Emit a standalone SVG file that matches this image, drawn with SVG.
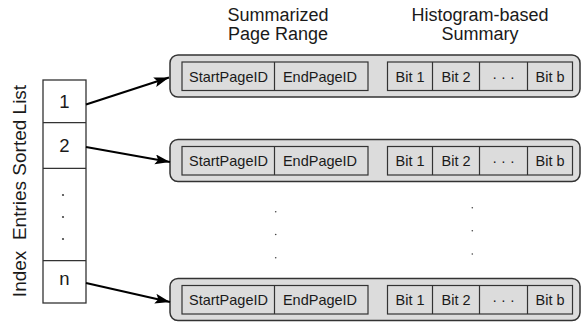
<svg xmlns="http://www.w3.org/2000/svg" width="581" height="330" viewBox="0 0 581 330">
<style>
text{font-family:"Liberation Sans",Arial,sans-serif;fill:#1a1a1a}
.hdr{font-size:18px;text-anchor:middle}
.lbl{font-size:19px;text-anchor:middle}
.lst{font-size:18.5px;text-anchor:middle}
.in{font-size:14.5px;text-anchor:middle}
.outer{fill:#dcdcdc;stroke:#333;stroke-width:1.5}
.inner{fill:#dcdcdc;stroke:#333;stroke-width:1.2}
.div{stroke:#333;stroke-width:1.2}
.cell{fill:#fff;stroke:#333;stroke-width:1.3}
.conn{stroke:#000;stroke-width:2.2;fill:none;marker-end:url(#ah)}
.dot{fill:#444}
</style>
<defs>
<marker id="ah" markerUnits="userSpaceOnUse" markerWidth="17" markerHeight="12" refX="15" refY="5" orient="auto">
<path d="M0,0 L15,5 L0,10 L3,5 Z" fill="#000"/>
</marker>
<g id="rowtpl">
<rect class="outer" x="170" y="55" width="410" height="42" rx="8"/>
<rect class="inner" x="182" y="62" width="186" height="28.5"/>
<line class="div" x1="274.5" y1="62" x2="274.5" y2="90.5"/>
<rect class="inner" x="387.5" y="62" width="185" height="28.5"/>
<line class="div" x1="432.5" y1="62" x2="432.5" y2="90.5"/>
<line class="div" x1="479.5" y1="62" x2="479.5" y2="90.5"/>
<line class="div" x1="527.5" y1="62" x2="527.5" y2="90.5"/>
<text class="in" x="228.5" y="81.5">StartPageID</text>
<text class="in" x="320" y="81.5">EndPageID</text>
<text class="in" x="410" y="81.5">Bit 1</text>
<text class="in" x="456" y="81.5">Bit 2</text>
<text class="in" x="503.5" y="81.5">· · ·</text>
<text class="in" x="550" y="81.5">Bit b</text>
</g>
</defs>
<g id="headers">
<text class="hdr" x="278" y="21">Summarized</text>
<text class="hdr" x="278" y="40">Page Range</text>
<text class="hdr" x="480" y="21">Histogram-based</text>
<text class="hdr" x="480" y="40">Summary</text>
</g>
<g id="list-label">
<text class="lbl" transform="translate(25.5,191) rotate(-90)" xml:space="preserve">Index  Entries Sorted List</text>
</g>
<g id="sorted-list">
<rect class="cell" x="43" y="80" width="43" height="223"/>
<line class="div" x1="43" y1="122.7" x2="86" y2="122.7"/>
<line class="div" x1="43" y1="168.3" x2="86" y2="168.3"/>
<line class="div" x1="43" y1="260.7" x2="86" y2="260.7"/>
<text class="lst" x="64.5" y="108">1</text>
<text class="lst" x="64.5" y="152">2</text>
<circle class="dot" cx="63" cy="195" r="1.1"/>
<circle class="dot" cx="63" cy="217" r="1.1"/>
<circle class="dot" cx="63" cy="239" r="1.1"/>
<text class="lst" x="64.5" y="285">n</text>
</g>
<g id="row1"><use href="#rowtpl"/></g>
<g id="row2"><use href="#rowtpl" transform="translate(0,84.5)"/></g>
<g id="row3"><use href="#rowtpl" transform="translate(0,223.5)"/></g>
<g id="vdots">
<circle class="dot" cx="275.7" cy="211.7" r="0.8"/>
<circle class="dot" cx="275.7" cy="234.5" r="0.8"/>
<circle class="dot" cx="275.7" cy="257.7" r="0.8"/>
<circle class="dot" cx="472.3" cy="207.7" r="0.8"/>
<circle class="dot" cx="472.3" cy="230.7" r="0.8"/>
<circle class="dot" cx="472.3" cy="254" r="0.8"/>
</g>
<g id="connectors">
<line class="conn" x1="86" y1="104.5" x2="169" y2="77.5"/>
<line class="conn" x1="86" y1="147" x2="170" y2="162"/>
<line class="conn" x1="86" y1="283" x2="170" y2="302"/>
</g>
</svg>
